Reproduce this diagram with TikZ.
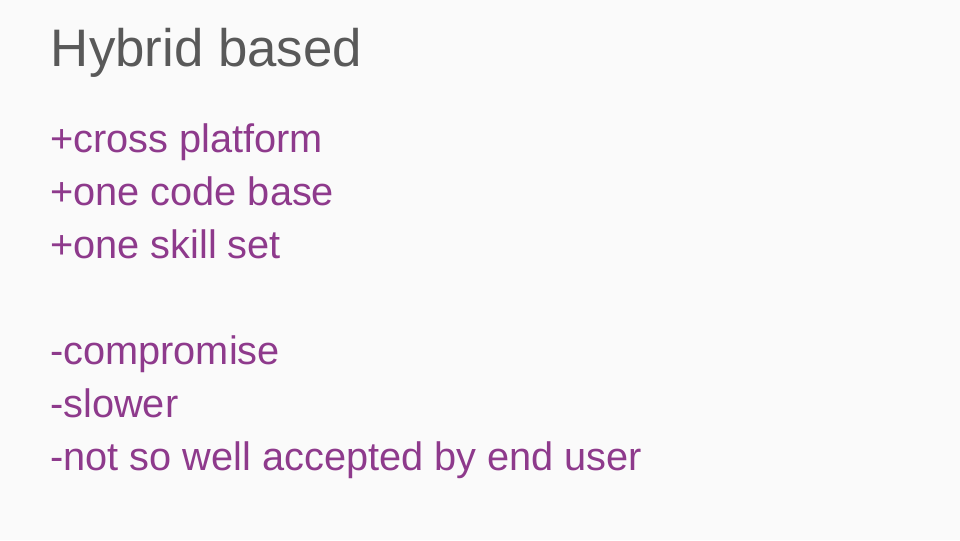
\documentclass[tikz,border=0pt]{standalone}
\usepackage{fontspec}
\setmainfont{Liberation Sans}
\usepackage{xcolor}
\usetikzlibrary{positioning}

\definecolor{titlegray}{HTML}{595959}
\definecolor{bodypurple}{HTML}{8E3A8C}
\definecolor{slidebg}{HTML}{FAFAFA}

\tikzset{
  slidetitle/.style={inner sep=0pt, anchor=base west, text=titlegray, font=\fontsize{39.6pt}{48pt}\selectfont},
  bullet/.style={inner sep=0pt, anchor=base west, text=bodypurple, font=\fontsize{29.8pt}{36pt}\selectfont}
}

\begin{document}
\begin{tikzpicture}[x=1pt,y=1pt]
 \fill [slidebg] (0,0) rectangle (720,-405);
 \useasboundingbox (0,0) rectangle (720,-405);

 \node (title) [slidetitle] at (38,-49.5) {Hybrid based};

 \node (cross) [bullet] at (37.5,-114.4) {+cross platform};
 \node (code) [bullet, below=39.75pt of cross.base west, anchor=base west] {+one code base};
 \node (skill) [bullet, below=39.75pt of code.base west, anchor=base west] {+one skill set};

 \node (compromise) [bullet, below=79.5pt of skill.base west, anchor=base west] {-compromise};
 \node (slower) [bullet, below=39.75pt of compromise.base west, anchor=base west] {-slower};
 \node (accepted) [bullet, below=39.75pt of slower.base west, anchor=base west] {-not so well accepted by end user};
\end{tikzpicture}
\end{document}
